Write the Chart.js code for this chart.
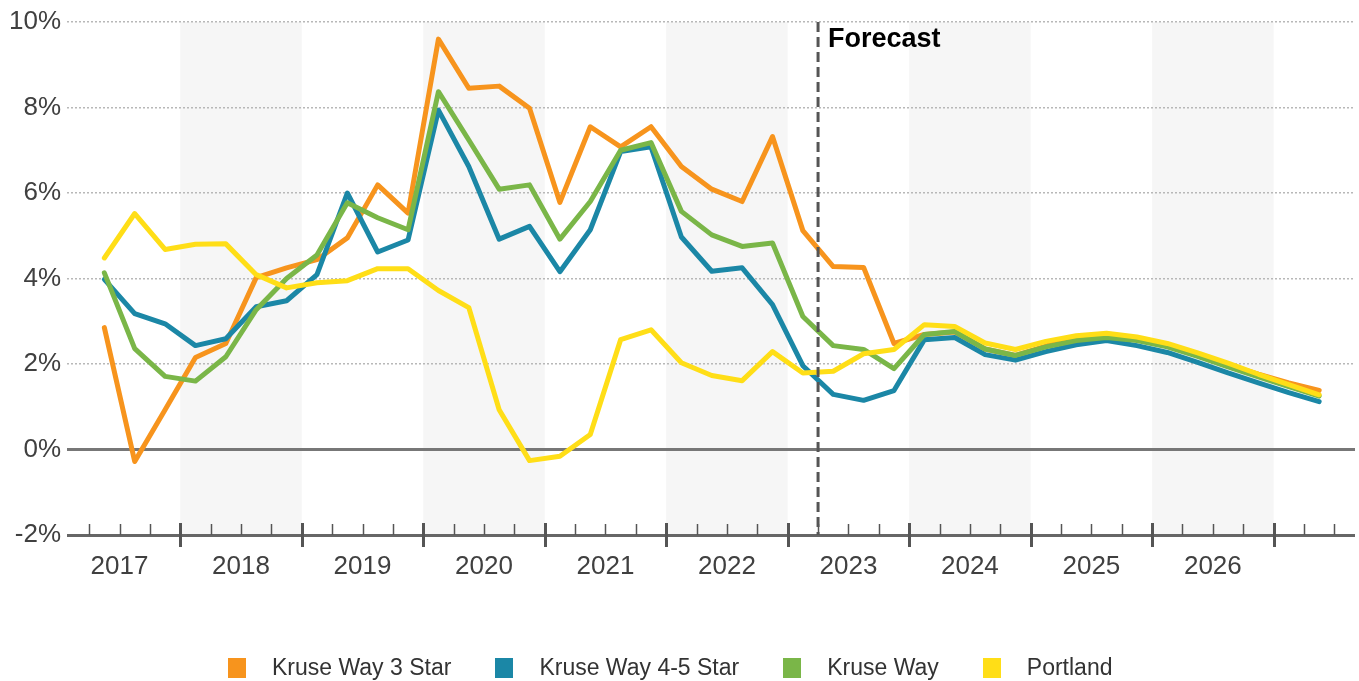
<!DOCTYPE html>
<html>
<head>
<meta charset="utf-8">
<script src="https://cdn.jsdelivr.net/npm/chart.js@4.4.1/dist/chart.umd.min.js"></script>
<style>
    html, body { margin: 0; padding: 0; background: #fff; }
    #wrap { position: relative; width: 1359px; height: 681px; }
    #legend {
        position: absolute; left: 228px; top: 654px;
        display: flex; align-items: center;
        font: 23px "Liberation Sans", Arial, sans-serif; color: #333;
    }
    #legend .item { display: flex; align-items: center; margin-right: 44px; }
    #legend .box { width: 18px; height: 20px; margin-right: 26px; }
</style>
</head>
<body>
<div id="wrap">
    <canvas id="rentChart" width="1359" height="681"></canvas>
    <div id="legend"></div>
</div>
<script>
// quarterly rent growth, %, one point per quarter
const quarters = [
    '2017 Q2', '2017 Q3', '2017 Q4', '2018 Q1', '2018 Q2', '2018 Q3', '2018 Q4',
    '2019 Q1', '2019 Q2', '2019 Q3', '2019 Q4', '2020 Q1', '2020 Q2', '2020 Q3', '2020 Q4',
    '2021 Q1', '2021 Q2', '2021 Q3', '2021 Q4', '2022 Q1', '2022 Q2', '2022 Q3', '2022 Q4',
    '2023 Q1', '2023 Q2', '2023 Q3', '2023 Q4', '2024 Q1', '2024 Q2', '2024 Q3', '2024 Q4',
    '2025 Q1', '2025 Q2', '2025 Q3', '2025 Q4', '2026 Q1', '2026 Q2', '2026 Q3', '2026 Q4',
    '2027 Q1', '2027 Q2'
];
const years = ['2017', '2018', '2019', '2020', '2021', '2022', '2023', '2024', '2025', '2026'];
const shadedYears = ['2018', '2020', '2022', '2024', '2026'];
const forecastFrom = '2023 Q2';

const kruseWay3Star = [2.85, -0.28, 0.93, 2.15, 2.48, 4.02, 4.25, 4.44, 4.95, 6.19, 5.53, 9.6, 8.45, 8.5, 7.98, 5.78,
    7.55, 7.08, 7.55, 6.62, 6.09, 5.8, 7.32, 5.12, 4.28, 4.26, 2.48, 2.69, 2.75, 2.35, 2.2, 2.42, 2.58, 2.65, 2.58,
    2.42, 2.22, 1.98, 1.76, 1.56, 1.38];
const kruseWay45Star = [3.98, 3.18, 2.94, 2.43, 2.59, 3.34, 3.48, 4.09, 6.0, 4.62, 4.9, 7.94, 6.62, 4.92, 5.22, 4.16,
    5.14, 6.97, 7.08, 4.97, 4.17, 4.25, 3.39, 1.96, 1.29, 1.15, 1.38, 2.57, 2.62, 2.22, 2.09, 2.29, 2.45, 2.55, 2.43,
    2.27, 2.04, 1.79, 1.56, 1.33, 1.12];
const kruseWay = [4.13, 2.36, 1.71, 1.6, 2.17, 3.27, 4.0, 4.55, 5.77, 5.42, 5.14, 8.37, 7.24, 6.09, 6.19, 4.92,
    5.8, 7.0, 7.18, 5.57, 5.02, 4.75, 4.83, 3.11, 2.43, 2.34, 1.89, 2.69, 2.76, 2.35, 2.2, 2.4, 2.55, 2.62, 2.55,
    2.4, 2.18, 1.93, 1.7, 1.47, 1.25];
const portland = [4.48, 5.52, 4.68, 4.8, 4.81, 4.09, 3.78, 3.9, 3.95, 4.23, 4.23, 3.72, 3.32, 0.93, -0.26, -0.16,
    0.35, 2.57, 2.8, 2.03, 1.73, 1.61, 2.29, 1.79, 1.83, 2.24, 2.34, 2.92, 2.88, 2.49, 2.34, 2.53, 2.66, 2.72, 2.63,
    2.48, 2.26, 2.02, 1.76, 1.52, 1.28];

const seriesNames = ['Kruse Way 3 Star', 'Kruse Way 4-5 Star', 'Kruse Way', 'Portland'];
const seriesColors = ['#f7941d', '#1b87a6', '#7ab648', '#ffde17'];
const seriesValues = [kruseWay3Star, kruseWay45Star, kruseWay, portland];

const FONT = '"Liberation Sans", Arial, sans-serif';
const firstYear = parseInt(years[0]);

// x runs in quarters from the start of the first year; a point sits mid-quarter
function quarterPos(label) {
    const [y, q] = label.split(' Q');
    return (parseInt(y) - firstYear) * 4 + (parseInt(q) - 1) + 0.5;
}
function yearStart(y) { return (parseInt(y) - firstYear) * 4; }

const datasets = seriesNames.map((name, i) => ({
    label: name,
    data: seriesValues[i].map((v, k) => ({ x: quarterPos(quarters[k]), y: v })),
    borderColor: seriesColors[i],
    backgroundColor: seriesColors[i],
    borderWidth: 5,
    pointRadius: 0,
    tension: 0,
    borderCapStyle: 'round',
    borderJoinStyle: 'round',
    order: seriesNames.length - i, // Portland drawn on top
}));

const decorations = {
    id: 'decorations',
    beforeDraw(chart) {
        const { ctx, chartArea, scales: { x } } = chart;
        ctx.save();
        ctx.fillStyle = '#f6f6f6';
        shadedYears.forEach(y => {
            const x0 = x.getPixelForValue(yearStart(y));
            const x1 = x.getPixelForValue(yearStart(y) + 4);
            ctx.fillRect(x0, chartArea.top, x1 - x0, chartArea.bottom - chartArea.top);
        });
        ctx.restore();
    },
    afterDatasetsDraw(chart) {
        const { ctx, chartArea, scales: { x } } = chart;
        const axisY = chartArea.bottom;
        ctx.save();

        // quarter and year ticks
        const lastTick = Math.floor(x.max);
        for (let k = 1; k <= lastTick; k++) {
            const px = Math.round(x.getPixelForValue(k)) + 0.5;
            const major = k % 4 === 0;
            ctx.beginPath();
            ctx.strokeStyle = '#555';
            ctx.lineWidth = major ? 3 : 1.5;
            ctx.moveTo(px, axisY - (major ? 12 : 11));
            ctx.lineTo(px, axisY + (major ? 12 : 0));
            ctx.stroke();
        }

        ctx.fillStyle = '#404040';
        ctx.font = '26px ' + FONT;
        ctx.textAlign = 'center';
        ctx.textBaseline = 'alphabetic';
        years.forEach(y => {
            ctx.fillText(y, x.getPixelForValue(yearStart(y) + 2), axisY + 39);
        });

        // forecast divider
        const fx = x.getPixelForValue(quarterPos(forecastFrom) - 0.5);
        ctx.beginPath();
        ctx.setLineDash([10, 5]);
        ctx.strokeStyle = '#555';
        ctx.lineWidth = 3;
        ctx.moveTo(fx, chartArea.top);
        ctx.lineTo(fx, axisY);
        ctx.stroke();
        ctx.setLineDash([]);

        ctx.fillStyle = '#000';
        ctx.font = 'bold 27px ' + FONT;
        ctx.textAlign = 'left';
        ctx.fillText('Forecast', fx + 10, chartArea.top + 25);
        ctx.restore();
    }
};

new Chart(document.getElementById('rentChart'), {
    type: 'line',
    data: { datasets: datasets },
    options: {
        responsive: false,
        animation: false,
        layout: { padding: { top: 22, right: 4, bottom: 146, left: 0 } },
        plugins: { legend: { display: false }, tooltip: { enabled: false } },
        scales: {
            x: {
                type: 'linear',
                display: false,
                min: 0.27,
                max: 42.68,
            },
            y: {
                min: -2,
                max: 10,
                afterFit: s => { s.width = 67; },
                ticks: {
                    stepSize: 2,
                    padding: 6,
                    color: '#404040',
                    font: { family: FONT, size: 26 },
                    callback: v => v + '%',
                },
                grid: {
                    drawTicks: false,
                    color: c => c.tick.value === 0 ? '#777' : (c.tick.value === -2 ? '#666' : '#b8b8b8'),
                    lineWidth: c => c.tick.value <= 0 ? 3 : 1.5,
                },
                border: {
                    display: false,
                    dash: c => c.tick && c.tick.value <= 0 ? [] : [2, 2],
                },
            },
        },
    },
    plugins: [decorations],
});

// legend row
const legend = document.getElementById('legend');
seriesNames.forEach((name, i) => {
    const item = document.createElement('div');
    item.className = 'item';
    const box = document.createElement('span');
    box.className = 'box';
    box.style.background = seriesColors[i];
    const text = document.createElement('span');
    text.textContent = name;
    item.appendChild(box);
    item.appendChild(text);
    legend.appendChild(item);
});
</script>
</body>
</html>
